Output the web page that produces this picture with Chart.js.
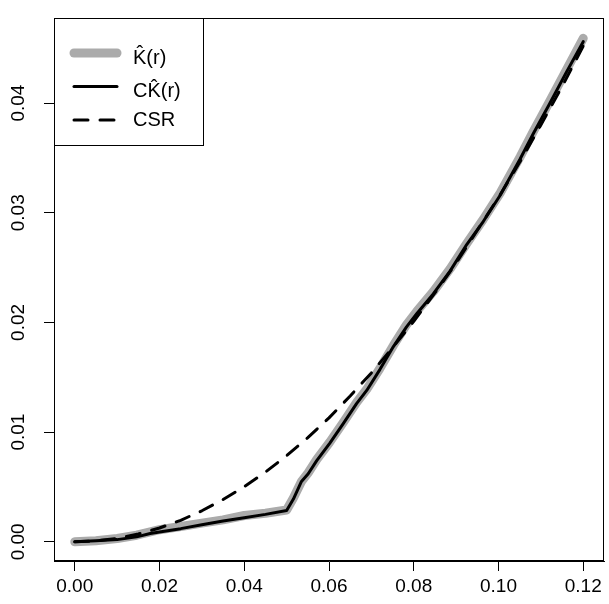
<!DOCTYPE html>
<html>
<head>
<meta charset="utf-8">
<script src="https://cdn.jsdelivr.net/npm/chart.js@4"></script>
<style>
html, body { margin: 0; padding: 0; background: #fff; }
</style>
</head>
<body>
<canvas id="kChart" width="609" height="604"></canvas>
<script>
// r values and the two estimates
const rVals = [0, 0.005, 0.010, 0.0146, 0.0178, 0.020, 0.025, 0.030, 0.035, 0.040, 0.045, 0.050,
  0.0516, 0.0535, 0.0551, 0.0571, 0.0602, 0.0634, 0.0665, 0.0689, 0.0720, 0.0752, 0.0783,
  0.0807, 0.0846, 0.0886, 0.0925, 0.0964, 0.1004, 0.1051, 0.1082, 0.1120, 0.1160, 0.1200];
const kHat = [0, 0.0001, 0.0003, 0.0006, 0.0009, 0.0011, 0.0014, 0.0017, 0.0020, 0.0024, 0.0026, 0.0029,
  0.0040, 0.0055, 0.0063, 0.0075, 0.0091, 0.0109, 0.0127, 0.0139, 0.0158, 0.0179, 0.0198,
  0.0210, 0.0228, 0.0249, 0.0272, 0.0294, 0.0318, 0.0351, 0.0374, 0.0401, 0.0430, 0.0459];
const ckHat = [0, 0.0001, 0.0002, 0.00045, 0.00075, 0.0009, 0.0012, 0.00155, 0.0019, 0.0022, 0.0025, 0.00285,
  0.0039, 0.0055, 0.0062, 0.0074, 0.0090, 0.0108, 0.0126, 0.0138, 0.0157, 0.0178, 0.0196,
  0.0208, 0.0226, 0.0247, 0.0271, 0.0292, 0.0316, 0.0349, 0.0372, 0.0399, 0.0428, 0.0456];

// CSR reference curve
const rCsr = [0, 0.005, 0.010, 0.015, 0.020, 0.025, 0.030, 0.035, 0.040, 0.045, 0.050, 0.055,
  0.060, 0.065, 0.070, 0.075, 0.080, 0.085, 0.090, 0.095, 0.100, 0.105, 0.110, 0.115, 0.120];
const csr = [0, 0.00008, 0.00031, 0.00071, 0.00126, 0.00196, 0.00283, 0.00385, 0.00503, 0.00636, 0.00785, 0.0095,
  0.0113, 0.0133, 0.0154, 0.0177, 0.0201, 0.0227, 0.0254, 0.0284, 0.0314, 0.0346, 0.0380, 0.0415, 0.0452];

const xTicks = [0, 0.02, 0.04, 0.06, 0.08, 0.10, 0.12];
const yTicks = [0, 0.01, 0.02, 0.03, 0.04];
const seriesNames = ["K\u0302(r)", "CK\u0302(r)", "CSR"];

const toPts = (xs, ys) => xs.map((x, i) => ({ x: x, y: ys[i] }));
const FONT = "'Liberation Sans', Arial, sans-serif";

// box round the plot + legend in the top left corner, R style
const boxLegend = {
  id: 'boxLegend',
  afterDraw(chart) {
    const ctx = chart.ctx, a = chart.chartArea;
    ctx.save();
    ctx.strokeStyle = '#000';
    ctx.lineWidth = 1;
    ctx.setLineDash([]);
    ctx.strokeRect(Math.round(a.left) + 0.5, Math.round(a.top) + 0.5,
      Math.round(a.right - a.left) - 1, Math.round(a.bottom - a.top) - 1);

    const lx = Math.round(a.left), ly = Math.round(a.top);
    ctx.strokeRect(lx + 0.5, ly + 0.5, 149, 127);

    ctx.font = '20px ' + FONT;
    ctx.textBaseline = 'middle';
    ctx.fillStyle = '#000';
    chart.data.datasets.forEach((ds, i) => {
      const y = ly + 35 + i * 33.5;
      ctx.beginPath();
      ctx.lineWidth = ds.borderWidth;
      ctx.strokeStyle = ds.borderColor;
      ctx.lineCap = 'round';
      ctx.setLineDash(ds.borderDash || []);
      ctx.moveTo(lx + 20, y);
      ctx.lineTo(lx + 63, y);
      ctx.stroke();
      ctx.setLineDash([]);
      ctx.fillText(ds.label, lx + 79, y + (i < 2 ? 5 : 0));
    });
    ctx.restore();
  }
};

new Chart(document.getElementById('kChart'), {
  type: 'line',
  data: {
    datasets: [
      {
        label: seriesNames[0],
        data: toPts(rVals, kHat),
        borderColor: '#ababab',
        borderWidth: 9,
        order: 3
      },
      {
        label: seriesNames[1],
        data: toPts(rVals, ckHat),
        borderColor: '#000',
        borderWidth: 3,
        order: 2
      },
      {
        label: seriesNames[2],
        data: toPts(rCsr, csr),
        borderColor: '#000',
        borderWidth: 3,
        borderDash: [14, 12],
        order: 1
      }
    ]
  },
  options: {
    responsive: false,
    animation: false,
    parsing: false,
    elements: {
      point: { radius: 0 },
      line: { tension: 0, borderCapStyle: 'round', borderJoinStyle: 'round', fill: false }
    },
    layout: { padding: { top: 10, right: 5, left: 0, bottom: 0 } },
    plugins: {
      legend: { display: false },
      tooltip: { enabled: false }
    },
    scales: {
      x: {
        type: 'linear',
        min: -0.0049,
        max: 0.1249,
        afterBuildTicks: s => { s.ticks = xTicks.map(v => ({ value: v })); },
        afterFit: s => { s.height = 43; },
        grid: { drawOnChartArea: false, drawTicks: true, tickLength: 10, color: '#000' },
        border: { display: true, color: '#000', width: 1 },
        ticks: {
          autoSkip: false,
          maxRotation: 0,
          padding: 4,
          color: '#000',
          font: { family: FONT, size: 19 },
          callback: v => v.toFixed(2)
        }
      },
      y: {
        type: 'linear',
        min: -0.00175,
        max: 0.04772,
        afterBuildTicks: s => { s.ticks = yTicks.map(v => ({ value: v })); },
        afterFit: s => { s.width = 54; },
        grid: { drawOnChartArea: false, drawTicks: true, tickLength: 10, color: '#000' },
        border: { display: true, color: '#000', width: 1 },
        ticks: {
          autoSkip: false,
          minRotation: 90,
          maxRotation: 90,
          crossAlign: 'center',
          padding: 7,
          color: '#000',
          font: { family: FONT, size: 19 },
          callback: v => v.toFixed(2)
        }
      }
    }
  },
  plugins: [boxLegend]
});
</script>
</body>
</html>
